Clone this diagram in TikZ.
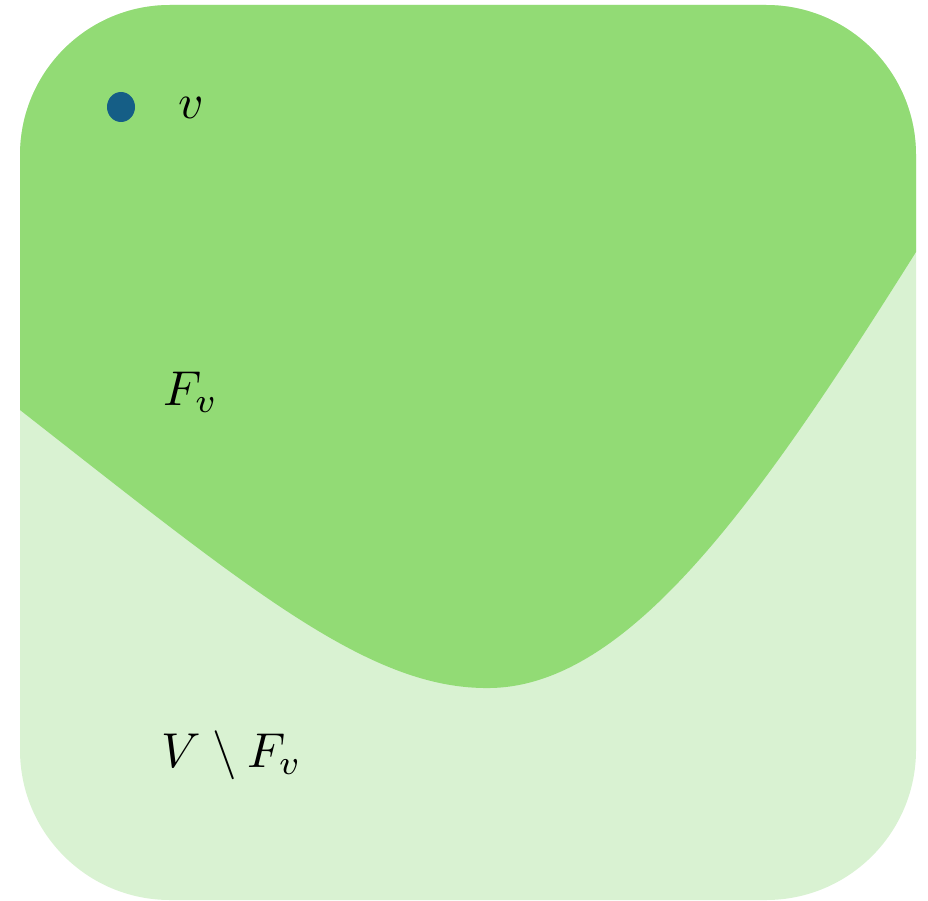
\documentclass[tikz,border=0pt]{standalone}
\usepackage{graphicx}
\usepackage{amsmath}
\definecolor{darkgreen}{HTML}{92DB75}
\definecolor{lightgreen}{HTML}{D9F2D2}
\definecolor{dotblue}{HTML}{155E86}
\newcommand{\bigmath}[1]{\scalebox{4.9}{$#1$}}
\begin{document}
\begin{tikzpicture}[x=1pt,y=-1pt,
  lbl/.style={inner sep=0pt}]
\useasboundingbox (0,0) rectangle (928,901);
\fill[lightgreen, rounded corners=150pt] (20,5) rectangle (916,900);
\begin{scope}
  \clip (0,0) -- (0,410) -- (20,410) .. controls (250,590) and (370,690) .. (490,688)
     .. controls (630,686) and (760,500) .. (916,252) -- (928,252) -- (928,0) -- cycle;
  \fill[darkgreen, rounded corners=150pt] (20,5) rectangle (916,900);
\end{scope}
\fill[dotblue] (121,107) ellipse [x radius=14, y radius=15];
\node[lbl] (v) at (191,108) {\bigmath{v}};
\node[lbl] (F) at (191,392) {\bigmath{F_v}};
\node[lbl] (VF) at (232,755) {\bigmath{V\setminus F_v}};
\end{tikzpicture}
\end{document}
